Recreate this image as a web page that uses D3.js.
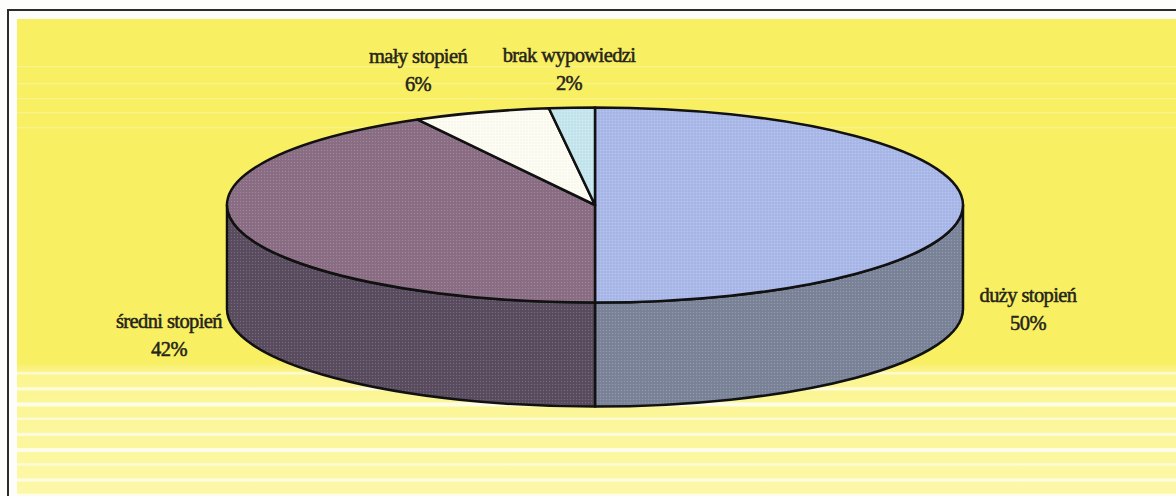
<!DOCTYPE html>
<html><head><meta charset="utf-8">
<script src="https://cdn.jsdelivr.net/npm/d3@7"></script>
<style>html,body{margin:0;padding:0;background:#fff;}svg{display:block;}</style>
</head><body>
<svg id="c" width="1176" height="496"></svg>
<script>
const categories = ["duży stopień", "średni stopień", "mały stopień", "brak wypowiedzi"];
const values = [50, 42, 6, 2];
const valueLabels = ["50%", "42%", "6%", "2%"];

const topColors = ["#aab9e9", "#8b6e85", "#fdfdf3", "#c6e7ef"];
const sideColors = ["#7b8499", "#5a4d5f", "#e6e6dc", "#9cc0c8"];

const W = 1176, H = 496;
const svg = d3.select("#c");
const defs = svg.append("defs");

// background
svg.append("rect").attr("x",0).attr("y",0).attr("width",W).attr("height",H).attr("fill","#fdfdfb");
svg.append("rect").attr("x",17).attr("y",19).attr("width",W-17).attr("height",H-19).attr("fill","#f8ef62");
const lg = defs.append("linearGradient").attr("id","lz").attr("x1",0).attr("x2",0).attr("y1",0).attr("y2",1);
lg.append("stop").attr("offset","0").attr("stop-color","#f8ef62");
lg.append("stop").attr("offset","0.08").attr("stop-color","#fbf591");
lg.append("stop").attr("offset","1").attr("stop-color","#fcf8a8");
svg.append("rect").attr("x",17).attr("y",362).attr("width",W-17).attr("height",H-362).attr("fill","url(#lz)");
// scan stripes (decoration)
const lowStripes = d3.range(372, 496, 15.2);
svg.append("g").selectAll("rect").data(lowStripes).join("rect")
  .attr("x",17).attr("y",d=>d).attr("width",W-17).attr("height",(d,i)=>2.5+(i%3)*0.8)
  .attr("fill","#ffffff").attr("opacity",(d,i)=>0.55+0.1*(i%3));
const topStripes = [66, 83, 98, 112, 127];
svg.append("g").selectAll("rect").data(topStripes).join("rect")
  .attr("x",17).attr("y",d=>d).attr("width",W-17).attr("height",1.4)
  .attr("fill","#ffffff").attr("opacity",0.25);
// frame
svg.append("line").attr("x1",7).attr("x2",W).attr("y1",10).attr("y2",10).attr("stroke","#2b2b2b").attr("stroke-width",2);
svg.append("line").attr("x1",8).attr("x2",8).attr("y1",9).attr("y2",H).attr("stroke","#2b2b2b").attr("stroke-width",2);

// pie geometry
const cx = 595, cy = 205, rx = 368, ry = 97.5, depth = 104;
const pie = d3.pie().sort(null).value(d=>d).startAngle(0).endAngle(2*Math.PI);
const arcs = pie(values);
const px = (a, r=1) => cx + rx*r*Math.sin(a);
const py = (a, r=1, dz=0) => cy - ry*r*Math.cos(a) + dz;

function texture(id, color){
  const p = defs.append("pattern").attr("id",id).attr("width",3).attr("height",3).attr("patternUnits","userSpaceOnUse");
  p.append("rect").attr("width",3).attr("height",3).attr("fill",color);
  p.append("rect").attr("x",0).attr("y",0).attr("width",1).attr("height",1).attr("fill","#ffffff").attr("opacity",0.18);
  p.append("rect").attr("x",1.5).attr("y",1.5).attr("width",1).attr("height",1).attr("fill","#000000").attr("opacity",0.08);
}
topColors.forEach((c,i)=>texture("t"+i,c));
sideColors.forEach((c,i)=>texture("s"+i,c));

function sidePath(a0, a1){
  const s = Math.max(a0, Math.PI/2), e = Math.min(a1, 3*Math.PI/2);
  if (e <= s) return null;
  const large = (e - s) > Math.PI ? 1 : 0;
  return `M${px(s)},${py(s)} A${rx},${ry} 0 ${large} 1 ${px(e)},${py(e)}` +
         ` L${px(e)},${py(e,1,depth)} A${rx},${ry} 0 ${large} 0 ${px(s)},${py(s,1,depth)} Z`;
}
function topPath(a0, a1){
  const large = (a1 - a0) > Math.PI ? 1 : 0;
  return `M${cx},${cy} L${px(a0)},${py(a0)} A${rx},${ry} 0 ${large} 1 ${px(a1)},${py(a1)} Z`;
}

const gSide = svg.append("g");
arcs.forEach((d,i)=>{
  const p = sidePath(d.startAngle, d.endAngle);
  if (p) gSide.append("path").attr("d",p).attr("fill","url(#s"+i+")")
    .attr("stroke","#111").attr("stroke-width",2.5).attr("stroke-linejoin","round");
});
const gTop = svg.append("g");
arcs.forEach((d,i)=>{
  gTop.append("path").attr("d",topPath(d.startAngle, d.endAngle)).attr("fill","url(#t"+i+")")
    .attr("stroke","#111").attr("stroke-width",2.5).attr("stroke-linejoin","round");
});

// label placement (layout only)
const labelAnchors = [
  {x:1028, y:302},
  {x:169,  y:328},
  {x:418,  y:63},
  {x:569,  y:62}
];
const gL = svg.append("g").attr("font-family","'Liberation Serif','Times New Roman',serif")
  .attr("font-size",20.5).attr("fill","#25241a").attr("text-anchor","middle")
  .attr("stroke","#25241a").attr("stroke-width",0.5);
arcs.forEach((d,i)=>{
  const L = labelAnchors[i];
  const t = gL.append("text").attr("x",L.x).attr("y",L.y).attr("letter-spacing",-0.6);
  t.append("tspan").attr("x",L.x).attr("dy",0).text(categories[i]);
  t.append("tspan").attr("x",L.x).attr("dy",28).text(valueLabels[i]);
});
</script>
</body></html>
